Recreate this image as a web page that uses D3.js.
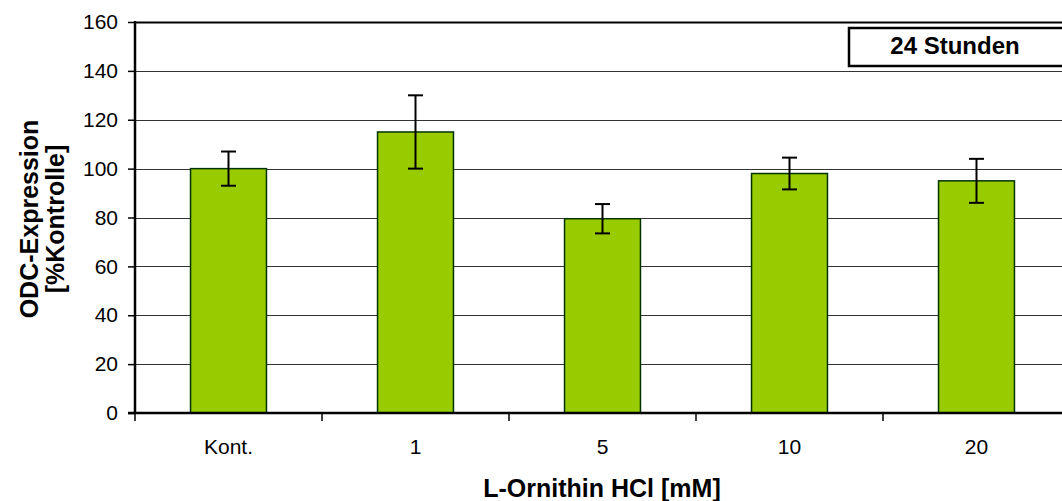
<!DOCTYPE html>
<html>
<head>
<meta charset="utf-8">
<script src="https://cdn.jsdelivr.net/npm/d3@7"></script>
<style>
  body { margin: 0; background: #fff; }
  svg { display: block; font-family: "Liberation Sans", Arial, sans-serif; }
</style>
</head>
<body>
<div id="chart"></div>
<script>
// Data
const categories = ['Kont.', '1', '5', '10', '20'];
const values = [100, 115, 79.5, 98, 95];
const errors = [7, 15, 6, 6.5, 9];
const yTicks = [0, 20, 40, 60, 80, 100, 120, 140, 160];
const boxLabel = '24 Stunden';
const xTitle = 'L-Ornithin HCl [mM]';
const yTitleLines = ['ODC-Expression', '[%Kontrolle]'];

const width = 1062, height = 501;
const plotLeft = 135, plotTop = 22, plotBottom = 413, plotRight = 1070;
const fontFamily = '"Liberation Sans", Arial, sans-serif';

const svg = d3.select('#chart').append('svg')
    .attr('width', width).attr('height', height);

const x = d3.scaleBand().domain(categories).range([plotLeft, plotRight]).paddingInner(0.594).paddingOuter(0.297);
const band = d3.scaleBand().domain(categories).range([plotLeft, plotRight]);
const y = d3.scaleLinear().domain([0, 160]).range([plotBottom, plotTop]);

// Gridlines
svg.append('g').selectAll('line').data(yTicks.filter(d => d > 0))
  .join('line')
    .attr('x1', plotLeft).attr('x2', width)
    .attr('y1', d => Math.round(y(d)) + 0.5).attr('y2', d => Math.round(y(d)) + 0.5)
    .attr('stroke', d => d === 160 ? '#000' : '#333')
    .attr('stroke-width', d => d === 160 ? 2 : 1);

// Bars
svg.append('g').selectAll('rect').data(values)
  .join('rect')
    .attr('x', (d, i) => x(categories[i]))
    .attr('y', d => y(d))
    .attr('width', x.bandwidth())
    .attr('height', d => plotBottom - y(d))
    .attr('fill', '#99CC00')
    .attr('stroke', '#003300')
    .attr('stroke-width', 1.5);

// Error bars
const eb = svg.append('g').attr('stroke', '#000').attr('stroke-width', 2);
values.forEach((v, i) => {
    const cx = x(categories[i]) + x.bandwidth() / 2;
    eb.append('line').attr('x1', cx).attr('x2', cx).attr('y1', y(v + errors[i])).attr('y2', y(v - errors[i]));
    [v + errors[i], v - errors[i]].forEach(e => {
        eb.append('line').attr('x1', cx - 7.5).attr('x2', cx + 7.5).attr('y1', y(e)).attr('y2', y(e));
    });
});

// Y axis
const yAxis = svg.append('g').attr('transform', `translate(${plotLeft},0)`)
    .call(d3.axisLeft(y).tickValues(yTicks).tickSize(7).tickPadding(10));
yAxis.select('.domain').attr('stroke-width', 2.5).attr('d', `M0,${plotTop - 1}V${plotBottom + 1}`);
yAxis.selectAll('.tick line').attr('stroke-width', 1.5);
yAxis.selectAll('text').attr('font-size', 21).attr('fill', '#000')
    .attr('font-family', fontFamily);

// X axis
const xAxis = svg.append('g').attr('transform', `translate(0,${plotBottom})`);
xAxis.append('line').attr('x1', plotLeft - 7).attr('x2', width)
    .attr('y1', 0).attr('y2', 0).attr('stroke', '#000').attr('stroke-width', 2.5);
xAxis.selectAll('.xt').data(categories.concat(['end']))
  .join('line')
    .attr('class', 'xt')
    .attr('x1', (d, i) => plotLeft + i * band.bandwidth())
    .attr('x2', (d, i) => plotLeft + i * band.bandwidth())
    .attr('y1', 0).attr('y2', 8).attr('stroke', '#000').attr('stroke-width', 1.5);
xAxis.selectAll('.xl').data(categories)
  .join('text')
    .attr('class', 'xl')
    .attr('x', d => band(d) + band.bandwidth() / 2)
    .attr('y', 41)
    .attr('text-anchor', 'middle')
    .attr('font-size', 21)
    .text(d => d);

// Axis titles
svg.append('text')
    .attr('x', 602).attr('y', 497)
    .attr('text-anchor', 'middle')
    .attr('font-size', 25).attr('font-weight', 'bold')
    .text(xTitle);

const yt = svg.append('text')
    .attr('transform', 'translate(0,219) rotate(-90)')
    .attr('text-anchor', 'middle')
    .attr('font-size', 25).attr('font-weight', 'bold');
yTitleLines.forEach((t, i) => {
    yt.append('tspan').attr('x', 0).attr('y', 38 + i * 26).text(t);
});

// Label box
svg.append('rect')
    .attr('x', 849).attr('y', 28).attr('width', 220).attr('height', 38)
    .attr('fill', '#fff').attr('stroke', '#000').attr('stroke-width', 2.5);
svg.append('text')
    .attr('x', 955).attr('y', 54)
    .attr('text-anchor', 'middle')
    .attr('font-size', 24).attr('font-weight', 'bold')
    .text(boxLabel);
</script>
</body>
</html>
